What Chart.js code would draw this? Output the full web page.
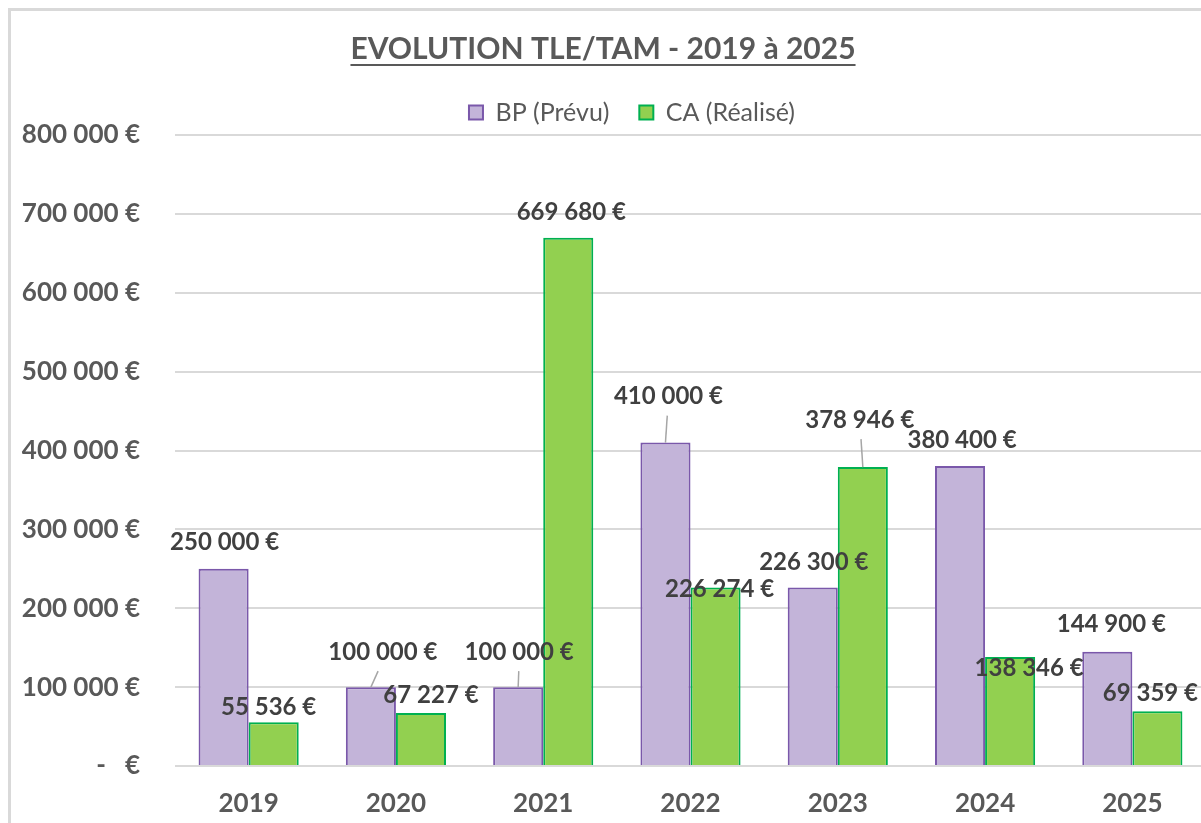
<!DOCTYPE html>
<html lang="fr">
<head>
<meta charset="utf-8">
<title>Evolution TLE/TAM</title>
<script src="https://cdn.jsdelivr.net/npm/chart.js@4.4.1/dist/chart.umd.min.js"></script>
<style>
  html, body { margin: 0; padding: 0; background: #fff; overflow: hidden; }
  #frame {
    position: absolute; left: 8px; top: 8px; width: 1300px; height: 900px;
    border-left: 3px solid #d9d9d9; border-top: 3px solid #d9d9d9;
  }
  #wrap { position: absolute; left: 0; top: 0; width: 1206px; height: 823px; }
</style>
</head>
<body>
<div id="frame"></div>
<div id="wrap"><canvas id="tle-tam" width="1206" height="823"></canvas></div>
<script>
const years = ["2019", "2020", "2021", "2022", "2023", "2024", "2025"];
const bpPrevu = [250000, 100000, 100000, 410000, 226300, 380400, 144900];
const caRealise = [55536, 67227, 669680, 226274, 378946, 138346, 69359];
const yTicks = [0, 100000, 200000, 300000, 400000, 500000, 600000, 700000, 800000];

// label nudges in px, from the top centre of each bar
const bpLabelShift = [[1, -27], [12, -35], [1, -35], [3, -46], [1, -25], [2, -26], [4, -27]];
const caLabelShift = [[-5, -15], [10, -18], [3, -26], [4, 2], [-3, -47], [19, 11], [-7, -18]];
const bpLeader = [false, true, true, true, false, false, false];
const caLeader = [false, false, false, false, true, false, false];

const grey = "#595959";
const fontFamily = "Lato, 'Open Sans', sans-serif";
const titleSize = 30;

function euro(v) {
  if (v === 0) return "-   €";
  return String(v).replace(/\B(?=(\d{3})+(?!\d))/g, " ") + " €";
}

// value labels above the bars, with a thin leader line where the label was moved away
const valueLabels = {
  id: "valueLabels",
  afterDatasetsDraw(chart) {
    const ctx = chart.ctx;
    const shifts = [bpLabelShift, caLabelShift];
    const leaders = [bpLeader, caLeader];
    ctx.save();
    ctx.font = "bold 24px " + fontFamily;
    ctx.textAlign = "center";
    ctx.textBaseline = "middle";
    chart.data.datasets.forEach((ds, d) => {
      chart.getDatasetMeta(d).data.forEach((bar, i) => {
        const lx = bar.x + shifts[d][i][0];
        const ly = bar.y + shifts[d][i][1];
        if (leaders[d][i]) {
          ctx.strokeStyle = "#a6a6a6";
          ctx.lineWidth = 1.5;
          ctx.beginPath();
          ctx.moveTo(lx - shifts[d][i][0] * 0.4, ly + 19);
          ctx.lineTo(bar.x, bar.y);
          ctx.stroke();
        }
        ctx.fillStyle = "#404040";
        ctx.fillText(euro(ds.data[i]), lx, ly);
      });
    });
    ctx.restore();
  },
};

// underline under the title + nudge legend to the right
const titleUnderline = {
  id: "titleUnderline",
  afterLayout(chart) {
    chart.legend.left += 29;
    chart.legend.right += 29;
  },
  afterDraw(chart) {
    const t = chart.titleBlock;
    const ctx = chart.ctx;
    ctx.save();
    ctx.font = "bold " + titleSize + "px " + fontFamily;
    const w = ctx.measureText(chart.options.plugins.title.text).width;
    const cx = (t.left + t.right) / 2;
    const cy = t.top + t.options.padding.top + titleSize * 0.6 + 16;
    ctx.strokeStyle = grey;
    ctx.lineWidth = 2;
    ctx.beginPath();
    ctx.moveTo(cx - w / 2, cy);
    ctx.lineTo(cx + w / 2, cy);
    ctx.stroke();
    ctx.restore();
  },
};

new Chart(document.getElementById("tle-tam"), {
  type: "bar",
  data: {
    labels: years,
    datasets: [
      {
        label: "BP (Prévu)",
        data: bpPrevu,
        backgroundColor: "#c3b4d9",
        borderColor: "#7a58aa",
        borderWidth: 2,
      },
      {
        label: "CA (Réalisé)",
        data: caRealise,
        backgroundColor: "#92d050",
        borderColor: "#00b050",
        borderWidth: 2,
      },
    ],
  },
  options: {
    responsive: false,
    animation: false,
    datasets: { bar: { categoryPercentage: 0.68, barPercentage: 1 } },
    layout: { padding: 0 },
    plugins: {
      title: {
        display: true,
        text: "EVOLUTION TLE/TAM - 2019 à 2025",
        color: grey,
        font: { family: fontFamily, size: titleSize, weight: "bold" },
        padding: { top: 31, bottom: 3 },
      },
      legend: {
        position: "top",
        labels: {
          boxWidth: 14,
          boxHeight: 14,
          color: grey,
          font: { family: fontFamily, size: 25 },
          padding: 30,
        },
      },
      tooltip: { enabled: false },
    },
    scales: {
      x: {
        grid: { display: false, drawTicks: false },
        border: { display: false },
        ticks: {
          color: grey,
          font: { family: fontFamily, size: 26, weight: "bold" },
          padding: 22,
        },
        afterFit: (s) => { s.height = 57; },
      },
      y: {
        min: 0,
        max: 800000,
        afterBuildTicks: (s) => { s.ticks = yTicks.map((v) => ({ value: v })); },
        grid: { color: "#d9d9d9", lineWidth: 2, drawTicks: false },
        border: { display: false },
        ticks: {
          callback: (v) => euro(v),
          color: grey,
          font: { family: fontFamily, size: 26, weight: "bold" },
          padding: 35,
        },
        afterFit: (s) => { s.width = 175; },
      },
    },
  },
  plugins: [valueLabels, titleUnderline],
});
</script>
</body>
</html>
